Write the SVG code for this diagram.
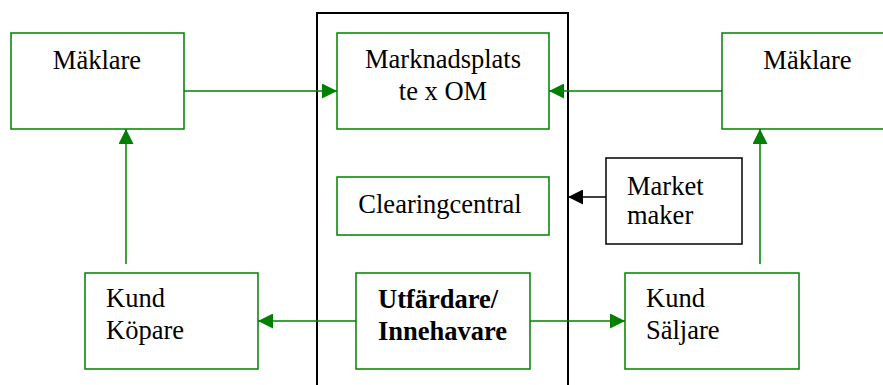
<svg xmlns="http://www.w3.org/2000/svg" width="883" height="385" viewBox="0 0 883 385">
<style>
.g{fill:#fff;stroke:#008000;stroke-width:1.5}
.b{fill:#fff;stroke:#000;stroke-width:1.5}
.t{font-family:"Liberation Serif","Times New Roman",serif;font-size:26.5px;fill:#000}
.bold{font-weight:bold}
.c{fill:none;stroke:#008000;stroke-width:1.5}
.ck{fill:none;stroke:#000;stroke-width:1.5}
</style>
<defs>
<marker id="ag" markerUnits="userSpaceOnUse" markerWidth="15" markerHeight="15" refX="15" refY="7.5" orient="auto"><path d="M0,0 L15,7.5 L0,15 z" fill="#008000"/></marker>
<marker id="ak" markerUnits="userSpaceOnUse" markerWidth="15" markerHeight="15" refX="15" refY="7.5" orient="auto"><path d="M0,0 L15,7.5 L0,15 z" fill="#000"/></marker>
</defs>
<g id="container"><path d="M317,390 V13 H568 V390" fill="none" stroke="#000" stroke-width="2"/></g>
<g id="maklare-left"><rect class="g" x="11" y="33" width="173" height="96"/><text class="t" x="97" y="69" text-anchor="middle">Mäklare</text></g>
<g id="marknadsplats"><rect class="g" x="337" y="33" width="212" height="96"/><text class="t" x="443" y="68" text-anchor="middle">Marknadsplats</text><text class="t" x="443" y="100" text-anchor="middle">te x OM</text></g>
<g id="maklare-right"><rect class="g" x="722" y="33" width="175" height="96"/><text class="t" x="807.5" y="69" text-anchor="middle">Mäklare</text></g>
<g id="clearing"><rect class="g" x="337" y="177" width="212" height="58"/><text class="t" x="440" y="213" text-anchor="middle">Clearingcentral</text></g>
<g id="marketmaker"><rect class="b" x="606" y="158" width="136" height="86"/><text class="t" x="627" y="195">Market</text><text class="t" x="627" y="224">maker</text></g>
<g id="kund-kopare"><rect class="g" x="85" y="273" width="173" height="96"/><text class="t" x="106" y="307">Kund</text><text class="t" x="106" y="339">Köpare</text></g>
<g id="utfardare"><rect class="g" x="356" y="273" width="174" height="96"/><text class="t bold" x="378" y="308">Utfärdare/</text><text class="t bold" x="378" y="340">Innehavare</text></g>
<g id="kund-saljare"><rect class="g" x="625" y="273" width="174" height="96"/><text class="t" x="646" y="307">Kund</text><text class="t" x="646" y="339">Säljare</text></g>
<g id="connectors">
<path class="c" d="M184,91 H337" marker-end="url(#ag)"/>
<path class="c" d="M722,91 H549" marker-end="url(#ag)"/>
<path class="c" d="M126,264 V129" marker-end="url(#ag)"/>
<path class="c" d="M760,264 V129" marker-end="url(#ag)"/>
<path class="ck" d="M606,197 H568" marker-end="url(#ak)"/>
<path class="c" d="M356,321 H258" marker-end="url(#ag)"/>
<path class="c" d="M530,321 H625" marker-end="url(#ag)"/>
</g>
</svg>
